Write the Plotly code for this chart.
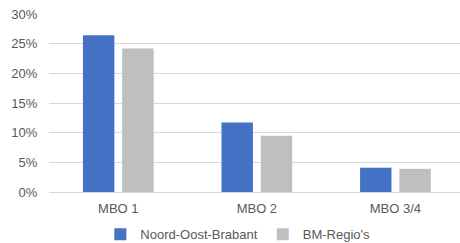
import plotly.graph_objects as go

categories = ["MBO 1", "MBO 2", "MBO 3/4"]
noord_oost_brabant = [0.264, 0.117, 0.041]
bm_regios = [0.242, 0.095, 0.039]
y_ticks = [0, 0.05, 0.10, 0.15, 0.20, 0.25, 0.30]
y_tick_labels = ["0%", "5%", "10%", "15%", "20%", "25%", "30%"]

font = dict(family="Liberation Sans, Arial, sans-serif", size=13, color="#595959")

fig = go.Figure()
fig.add_trace(go.Bar(x=categories, y=noord_oost_brabant, name="Noord-Oost-Brabant",
                     marker=dict(color="#4472C4", line=dict(width=0))))
fig.add_trace(go.Bar(x=categories, y=bm_regios, name="BM-Regio's",
                     marker=dict(color="#BFBFBF", line=dict(width=0))))

fig.update_layout(
    width=460, height=243,
    margin=dict(l=49, r=0, t=14, b=51, autoexpand=False),
    paper_bgcolor="white", plot_bgcolor="white",
    font=font,
    barmode="group", bargap=0.433, bargroupgap=0.2,
    showlegend=True,
    legend=dict(orientation="h", xref="container", yref="container",
                x=0.517, xanchor="center", y=0.036, yanchor="middle",
                font=font, itemwidth=30, traceorder="normal",
                bgcolor="rgba(0,0,0,0)"),
)
fig.update_xaxes(range=[-0.5, 2.466], showgrid=False, showline=True, linecolor="#D9D9D9",
                 linewidth=1, ticks="outside", ticklen=4, tickcolor="rgba(0,0,0,0)",
                 tickfont=font, automargin=False)
fig.update_yaxes(range=[0, 0.30], tickvals=y_ticks, ticktext=y_tick_labels,
                 showgrid=True, gridcolor="#D9D9D9", gridwidth=1, zeroline=False,
                 showline=False, ticks="outside", ticklen=8, tickcolor="rgba(0,0,0,0)",
                 tickfont=font, automargin=False)

fig.write_html("out.html", config={"displayModeBar": False},
               post_script="document.body.style.margin='0';document.body.style.overflow='hidden';")
